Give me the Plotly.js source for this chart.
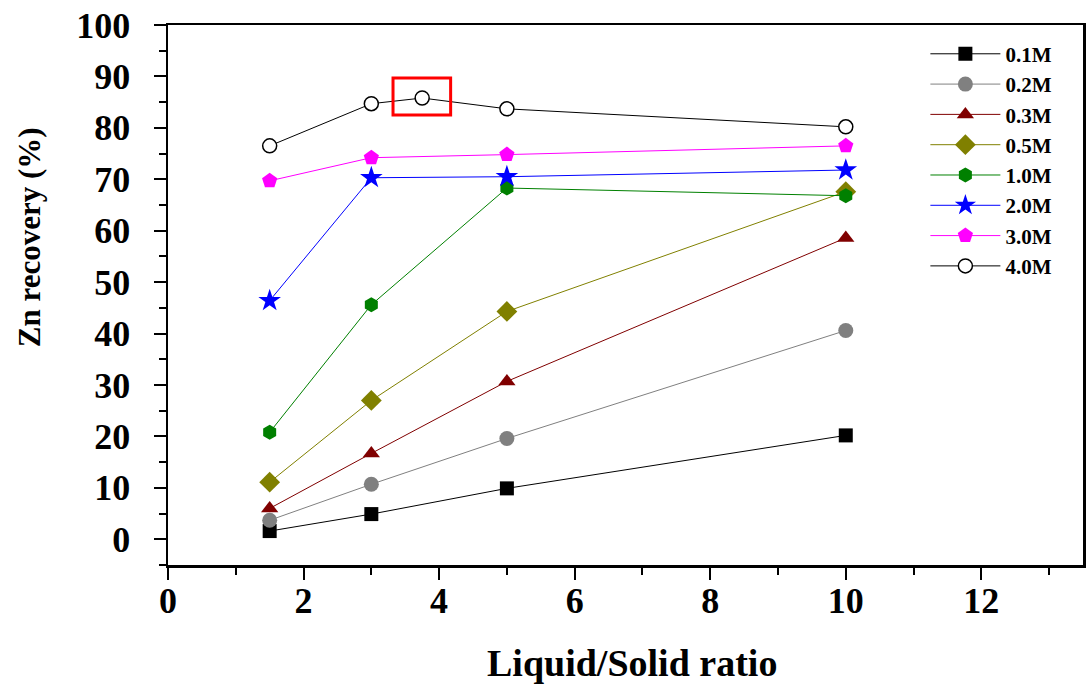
<!DOCTYPE html>
<html>
<head>
<meta charset="utf-8">
<script src="https://cdn.plot.ly/plotly-3.0.1.min.js"></script>
<style>html,body{margin:0;padding:0;background:#fff}#chart{width:1086px;height:684px}</style>
</head>
<body>
<div id="chart"></div>
<script>
const seriesNames = ["0.1M","0.2M","0.3M","0.5M","1.0M","2.0M","3.0M","4.0M"];
const xCommon = [1.5, 3, 5, 10];
const x40 = [1.5, 3, 3.75, 5, 10];
const y01 = [1.6, 4.9, 9.9, 20.2];
const y02 = [3.7, 10.7, 19.6, 40.6];
const y03 = [6.0, 16.7, 30.7, 58.6];
const y05 = [11.1, 27.0, 44.3, 67.6];
const y10 = [20.8, 45.6, 68.3, 66.8];
const y20 = [46.4, 70.3, 70.5, 71.8];
const y30 = [69.7, 74.2, 74.8, 76.5];
const y40 = [76.5, 84.7, 85.8, 83.7, 80.2];
const xTicks = [0, 2, 4, 6, 8, 10, 12];
const yTicks = [0, 10, 20, 30, 40, 50, 60, 70, 80, 90, 100];
const highlightX = [3.32, 4.17];
const highlightY = [82.5, 89.7];

const styles = [
  {color:"#000000", symbol:"square", size:14},
  {color:"#808080", symbol:"circle", size:15},
  {color:"#800000", symbol:"triangle-up", size:15},
  {color:"#808000", symbol:"diamond", size:16},
  {color:"#008000", symbol:"hexagon", size:15},
  {color:"#0000ff", symbol:"star", size:17},
  {color:"#ff00ff", symbol:"pentagon", size:16},
  {color:"#000000", symbol:"circle", size:14, open:true}
];
const xs = [xCommon,xCommon,xCommon,xCommon,xCommon,xCommon,xCommon,x40];
const ys = [y01,y02,y03,y05,y10,y20,y30,y40];

const traces = seriesNames.map((n,i)=>({
  type:"scatter", mode:"lines+markers", name:n, x:xs[i], y:ys[i],
  line:{color:styles[i].color, width:1},
  marker:{symbol:styles[i].symbol, size:styles[i].size,
          color: styles[i].open ? "#ffffff" : styles[i].color,
          line:{color:styles[i].color, width: styles[i].open ? 1.5 : 0}}
}));

const font = "Liberation Serif, Times New Roman, serif";
const layout = {
  width:1086, height:684,
  margin:{l:168, r:3, t:25, b:119},
  paper_bgcolor:"#fff", plot_bgcolor:"#fff",
  showlegend:true,
  legend:{x:0.972, xanchor:"right", y:0.984, yanchor:"top", bgcolor:"rgba(0,0,0,0)",
          font:{family:font, size:21, color:"#000", weight:"bold"}, tracegroupgap:0, itemwidth:70},
  xaxis:{range:[0,13.5], tickvals:xTicks, ticks:"outside", ticklen:12, tickwidth:2, tickcolor:"#000",
         minor:{dtick:1, tick0:0, ticks:"outside", ticklen:7, tickwidth:2, tickcolor:"#000"},
         showline:true, linewidth:2.5, linecolor:"#000", mirror:true, showgrid:false, zeroline:false,
         ticklabelstandoff:-10,
         tickfont:{family:font, size:36, color:"#000", weight:"bold"}},
  yaxis:{range:[-5,100], tickvals:yTicks, ticks:"outside", ticklen:12, tickwidth:2, tickcolor:"#000",
         minor:{dtick:5, tick0:0, ticks:"outside", ticklen:7, tickwidth:2, tickcolor:"#000"},
         showline:true, linewidth:2.5, linecolor:"#000", mirror:true, showgrid:false, zeroline:false,
         ticklabelstandoff:16,
         tickfont:{family:font, size:36, color:"#000", weight:"bold"}},
  annotations:[
    {text:"Zn recovery (%)", textangle:-90, xref:"paper", yref:"paper", x:-0.152, y:0.607, xanchor:"center", yanchor:"middle",
     showarrow:false, font:{family:font, size:31, color:"#000", weight:"bold"}},
    {text:"Liquid/Solid ratio", xref:"paper", yref:"paper", x:0.507, y:-0.181, xanchor:"center", yanchor:"middle",
     showarrow:false, font:{family:font, size:38, color:"#000", weight:"bold"}}
  ],
  shapes:[{type:"rect", xref:"x", yref:"y", x0:highlightX[0], x1:highlightX[1], y0:highlightY[0], y1:highlightY[1],
           line:{color:"#ff0000", width:3}}]
};
Plotly.newPlot("chart", traces, layout, {displayModeBar:false, staticPlot:true});
</script>
</body>
</html>
